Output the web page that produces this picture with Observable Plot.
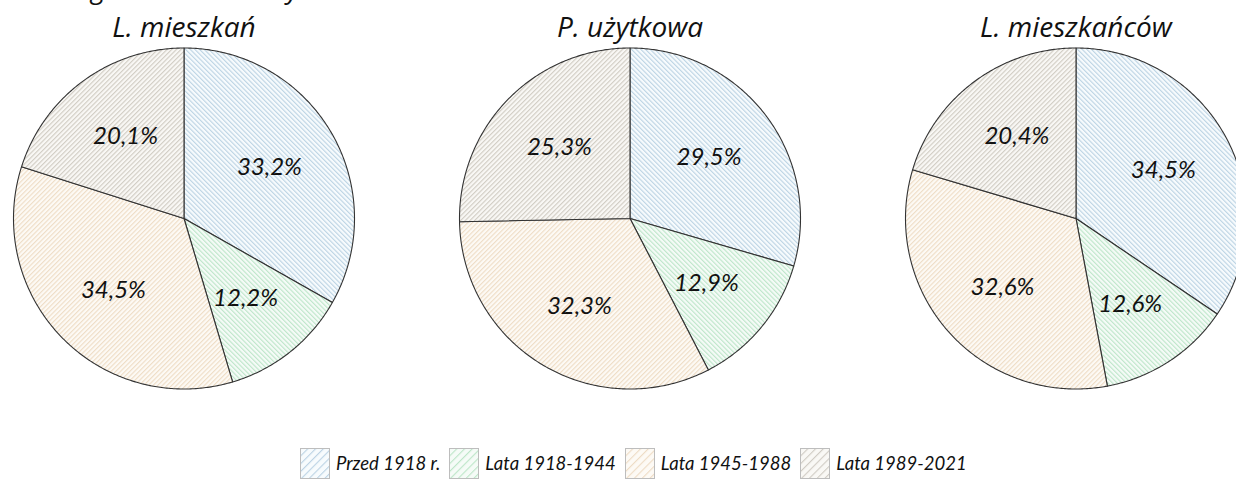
<!DOCTYPE html>
<html>
<head>
<meta charset="utf-8">
<script src="https://cdn.jsdelivr.net/npm/d3@7"></script>
<script src="https://cdn.jsdelivr.net/npm/@observablehq/plot@0.6"></script>
<style>
  html, body { margin: 0; padding: 0; background: #fff; overflow: hidden; width: 1236px; height: 479px; }
  #wrap { position: relative; width: 1236px; height: 479px; overflow: hidden; }
  #toptitle { position: absolute; right: calc(1236px - 300px); top: -31px; white-space: nowrap;
    font: italic 27px "Open Sans", Lato, sans-serif; color: #111; letter-spacing: 0.5px; }
  #chart { position: absolute; left: 0; top: 0; width: 1338px; }
  #chart svg { max-width: none !important; }
  #legend { position: absolute; left: 300px; top: 448px; display: flex; align-items: flex-start;
    font: italic 18.5px Lato, "Open Sans", sans-serif; color: #111; }
  .item { display: flex; align-items: flex-start; margin-right: 9px; }
  .item svg { display: block; }
  .item span { margin-left: 6px; line-height: 30px; }
</style>
</head>
<body>
<div id="wrap">
  <div id="toptitle">Zasoby mieszkaniowe wg okresu budowy</div>
  <div id="chart"></div>
  <div id="legend"></div>
</div>
<svg width="0" height="0" style="position:absolute">
  <defs id="defs"></defs>
</svg>
<script>
// ---- data ----
const charts = ["L. mieszkań", "P. użytkowa", "L. mieszkańców"];
const periods = ["Przed 1918 r.", "Lata 1918-1944", "Lata 1945-1988", "Lata 1989-2021"];
const mieszkan = [33.2, 12.2, 34.5, 20.1];
const uzytkowa = [29.5, 12.9, 32.3, 25.3];
const mieszkancow = [34.5, 12.6, 32.6, 20.4];
const seriesValues = [mieszkan, uzytkowa, mieszkancow];

// ---- styles ----
const lineColors = ["#b5cfe1", "#b7e4c4", "#edd9c0", "#ccc7be"];
const bgColors = ["#f7fbfd", "#f5fbf7", "#fdfaf5", "#f9f8f5"];
const angles = [-45, -45, 45, 45];

const ns = "http://www.w3.org/2000/svg";
const defs = document.getElementById("defs");
function addPattern(id, i, size, angle, sw) {
  const p = document.createElementNS(ns, "pattern");
  p.setAttribute("id", id);
  p.setAttribute("patternUnits", "userSpaceOnUse");
  p.setAttribute("width", size);
  p.setAttribute("height", size);
  p.setAttribute("patternTransform", `rotate(${angle})`);
  const r = document.createElementNS(ns, "rect");
  r.setAttribute("width", size); r.setAttribute("height", size); r.setAttribute("fill", bgColors[i]);
  p.appendChild(r);
  const l = document.createElementNS(ns, "line");
  l.setAttribute("x1", 0.6); l.setAttribute("y1", 0); l.setAttribute("x2", 0.6); l.setAttribute("y2", size);
  l.setAttribute("stroke", lineColors[i]); l.setAttribute("stroke-width", sw);
  p.appendChild(l);
  defs.appendChild(p);
}
periods.forEach((_, i) => {
  addPattern(`hatch${i}`, i, 3.3, angles[i], 1);
  addPattern(`leg${i}`, i, 5.5, 45, 1);
});

// ---- geometry from data ----
const pie = d3.pie().sort(null).value(d => d.value);
const polys = [];
const labels = [];
charts.forEach((chart, c) => {
  const rows = periods.map((p, i) => ({chart, period: p, i, value: seriesValues[c][i]}));
  pie(rows).forEach(a => {
    const key = chart + "|" + a.data.period;
    polys.push({chart, key, i: a.data.i, x: 0, y: 0});
    const n = Math.max(2, Math.ceil((a.endAngle - a.startAngle) / 0.01));
    for (let k = 0; k <= n; ++k) {
      const t = a.startAngle + (a.endAngle - a.startAngle) * k / n;
      polys.push({chart, key, i: a.data.i, x: Math.sin(t), y: Math.cos(t)});
    }
    polys.push({chart, key, i: a.data.i, x: 0, y: 0});
    const mid = (a.startAngle + a.endAngle) / 2;
    labels.push({chart, x: 0.58 * Math.sin(mid), y: 0.6 * Math.cos(mid),
      text: a.data.value.toFixed(1).replace(".", ",") + "%"});
  });
});

const R = 170.5, facetW = 446, cx = 183.5, cy = 218, H = 430;
const plot = Plot.plot({
  width: facetW * 3,
  height: H,
  margin: 0,
  fx: {domain: charts, padding: 0, axis: null},
  x: {domain: [-cx / R, (facetW - cx) / R], axis: null},
  y: {domain: [-(H - cy) / R, cy / R], axis: null},
  style: {background: "transparent", overflow: "visible", maxWidth: "none"},
  marks: [
    ...periods.map((p, i) => Plot.line(polys.filter(d => d.i === i), {
      x: "x", y: "y", z: "key", fx: "chart",
      fill: `url(#hatch${i})`, stroke: "#333", strokeWidth: 1.1, strokeLinejoin: "round"
    })),
    Plot.text(labels, {x: "x", y: "y", fx: "chart", text: "text",
      fontSize: 24, fontStyle: "italic", fontFamily: "Lato, 'Open Sans', sans-serif", fill: "#111"}),
    Plot.text(charts, {fx: d => d, x: 0, text: d => d, frameAnchor: "top", lineAnchor: "middle", dy: 28,
      fontSize: 28, fontStyle: "italic", fontFamily: "'Open Sans', Lato, sans-serif", fill: "#111"})
  ]
});
document.getElementById("chart").appendChild(plot);

// ---- legend ----
const legend = document.getElementById("legend");
periods.forEach((p, i) => {
  const item = document.createElement("div");
  item.className = "item";
  item.innerHTML = `<svg width="30" height="31"><rect x="0.5" y="0.5" width="29" height="30" fill="url(#leg${i})" stroke="#bdbdbd"/></svg><span>${p}</span>`;
  legend.appendChild(item);
});
</script>
</body>
</html>
